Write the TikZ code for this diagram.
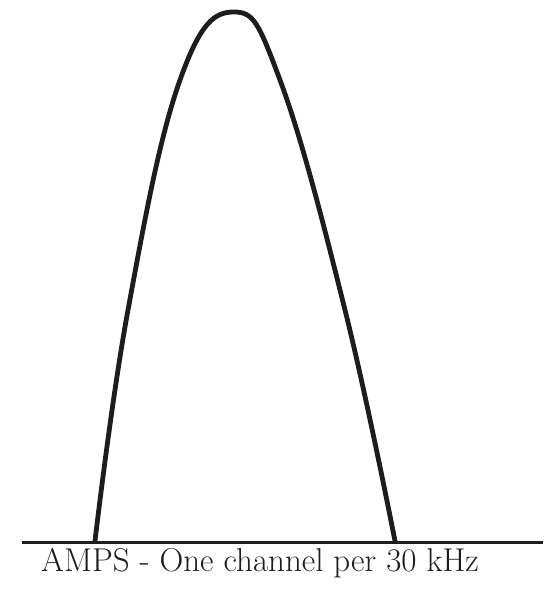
\documentclass[tikz,border=0pt]{standalone}
\usepackage{tikz}
\usetikzlibrary{positioning}
\definecolor{ink}{RGB}{30,28,28}
\tikzset{
  hump/.style={draw=ink, line width=4.8pt, line cap=round, line join=round},
  floor/.style={draw=ink, line width=3pt},
  caption/.style={text=ink, inner sep=0pt, font=\fontsize{33}{36}\selectfont},
}

\begin{document}
\begin{tikzpicture}[x=1pt,y=-1pt]
\useasboundingbox (0,0) rectangle (543,593);
%% channel spectrum
\draw[hump] plot[smooth, tension=0.7] coordinates {
  (95,541) (128,310) (180,80) (234,12) (280,80) (345,310) (395,541)};
%% frequency axis
\coordinate (axisL) at (22,542);
\coordinate (axisR) at (543,542);
\draw[floor] (axisL) -- (axisR);
\node[caption, anchor=base] (label) at (260,571) {AMPS - One channel per 30 kHz};
\end{tikzpicture}
\end{document}
